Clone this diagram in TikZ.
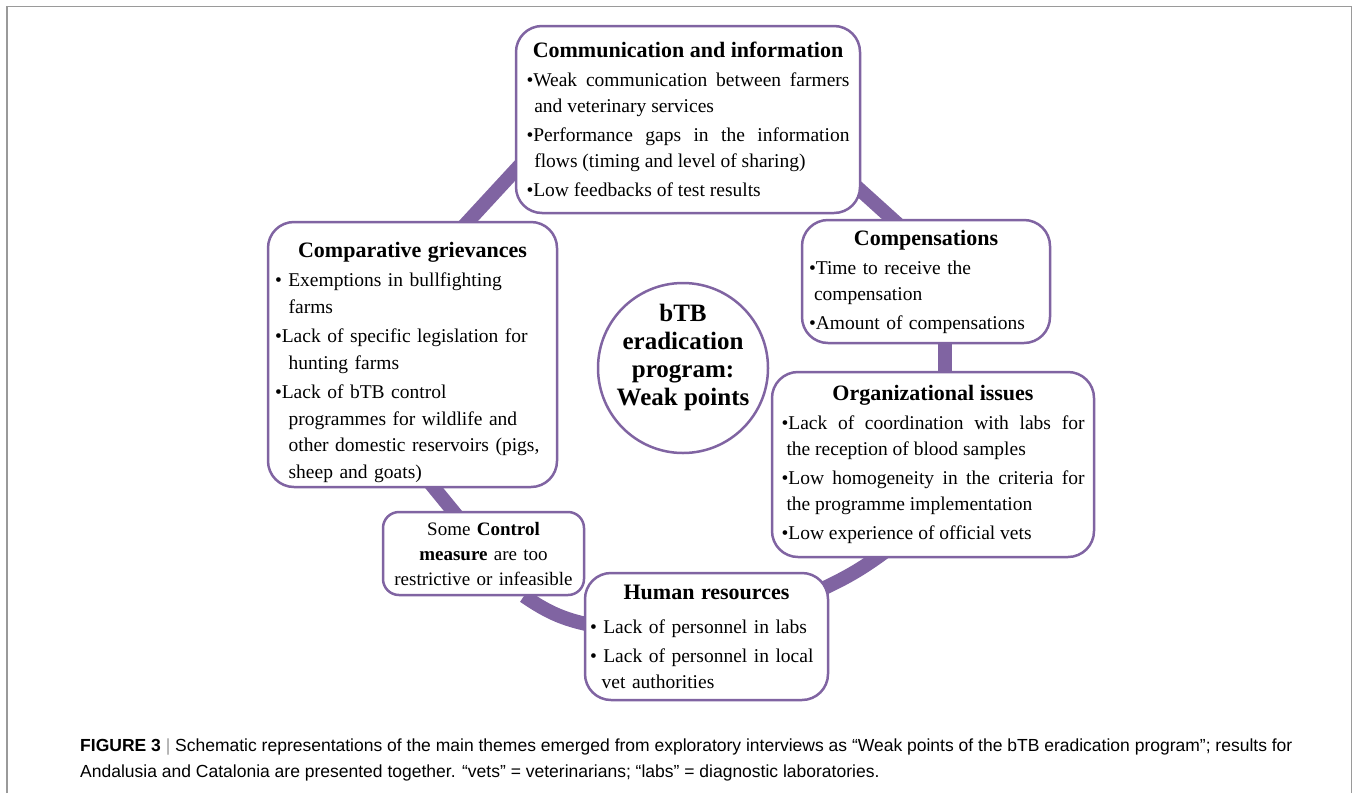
\documentclass[tikz,border=0pt]{standalone}
\usepackage{fontspec}
\setmainfont{Liberation Serif}
\newfontfamily\capfont{Liberation Sans}
\usetikzlibrary{backgrounds}
\definecolor{pur}{HTML}{8064A2}
\definecolor{frame}{HTML}{9A9A9A}
\hyphenpenalty=10000
\exhyphenpenalty=10000
\newlength{\hangw}\setlength{\hangw}{0.5em}
\newcommand{\bitem}[1]{\par\hangindent=\hangw\hangafter=1 •#1\par}
\newcommand{\btitle}[1]{{\centering\fontsize{22}{26}\selectfont\bfseries #1\par}}
\begin{document}
\begin{tikzpicture}[x=1pt,y=-1pt,
  box/.style={draw=pur, line width=2.5pt, rounded corners=26pt, fill=white,
    inner xsep=6pt, inner ysep=3pt, align=left,
    font=\fontsize{19.5}{26}\selectfont},
  bar/.style={draw=pur, line width=14pt}]
\useasboundingbox (0,0) rectangle (1356,793);
% outer frame
\draw[frame, line width=1.5pt] (7,793) -- (7,6.5) -- (1351.5,6.5) -- (1351.5,793);

% boxes
\node[box, align=justify, minimum width=344pt, minimum height=187pt, text width=323pt] (comm) at (688,119.5)
 {\setlength{\parskip}{3pt}\setlength{\hangw}{0.4em}\btitle{Communication and information}
  \bitem{Weak communication between farmers\linebreak and veterinary services}
  \bitem{Performance gaps in the information\linebreak flows (timing and level of sharing)}
  \bitem{Low feedbacks of test results}};

\node[box, minimum width=248pt, minimum height=123pt, text width=234pt] (comp) at (926,281.5)
 {\setlength{\parskip}{3pt}\btitle{Compensations}
  \bitem{Time to receive the\break compensation}
  \bitem{Amount of compensations}};

\node[box, minimum width=289pt, minimum height=265pt, text width=275pt, font=\fontsize{19.5}{26.5}\selectfont] (griev) at (412.5,354.5)
 {\setlength{\parskip}{3pt}\setlength{\hangw}{0.7em}\btitle{\rule{0pt}{31pt}Comparative grievances}
  \bitem{ Exemptions in bullfighting\break farms}
  \bitem{Lack of specific legislation for\break hunting farms}
  \bitem{Lack of bTB control\break programmes for wildlife and\break other domestic reservoirs (pigs,\break sheep and goats)}};

\node[box, align=justify, minimum width=322pt, minimum height=185pt, text width=303pt] (org) at (933,464.5)
 {\setlength{\parskip}{3pt}\btitle{Organizational issues}
  \bitem{Lack of coordination with labs for\linebreak the reception of blood samples}
  \bitem{Low homogeneity in the criteria for\linebreak the programme implementation}
  \bitem{Low experience of official vets}};

\node[box, rounded corners=16pt, minimum width=201pt, minimum height=83pt, text width=195pt,
  inner xsep=3pt, align=center, font=\fontsize{19}{25}\selectfont] (ctrl) at (483.5,553.5)
 {Some \textbf{Control}\\\textbf{measure} are too\\restrictive or infeasible};

\node[box, minimum width=243pt, minimum height=127pt, text width=233pt, inner xsep=4pt] (hum) at (706.5,636.5)
 {\setlength{\parskip}{3pt}\setlength{\hangw}{0.6em}\btitle{Human resources}\vspace{5pt}
  \bitem{ Lack of personnel in labs}
  \bitem{ Lack of personnel in local\break vet authorities}};

\node[circle, draw=pur, line width=2.5pt, fill=white, minimum size=170pt, inner sep=0pt] (core) at (683,368) {};
\node[align=center, inner sep=0pt, font=\bfseries\fontsize{25}{28}\selectfont] (coretext) at (683,357)
 {bTB\\eradication\\program:\\Weak points};

% connectors (bars)
\coordinate (a1) at (522,163); \coordinate (a2) at (462,228);
\coordinate (b1) at (848,179); \coordinate (b2) at (900,226);
\coordinate (c1) at (945,336); \coordinate (c2) at (945,380);
\coordinate (d1) at (890,548); \coordinate (d2) at (820,590);
\coordinate (e1) at (596,626); \coordinate (e2) at (524,596);
\coordinate (f1) at (462,522); \coordinate (f2) at (426,478);
\begin{scope}[on background layer]
\draw[bar] (a1) -- (a2);
\draw[bar] (b1) -- (b2);
\draw[bar] (c1) -- (c2);
\draw[bar] (d1) to[bend left=6] (d2);
\draw[bar] (e1) to[bend left=12] (e2);
\draw[bar] (f1) -- (f2);
\end{scope}

% caption
\node[anchor=north west, inner sep=0pt, align=left, font=\capfont\fontsize{17.5}{26}\selectfont] (cap) at (80,739)
 {\textbf{FIGURE 3} {\color{frame}|} Schematic representations of the main themes emerged from exploratory interviews as “Weak points of the bTB eradication program”; results for\\
 Andalusia and Catalonia are presented together. “vets” = veterinarians; “labs” = diagnostic laboratories.};
\end{tikzpicture}
\end{document}
